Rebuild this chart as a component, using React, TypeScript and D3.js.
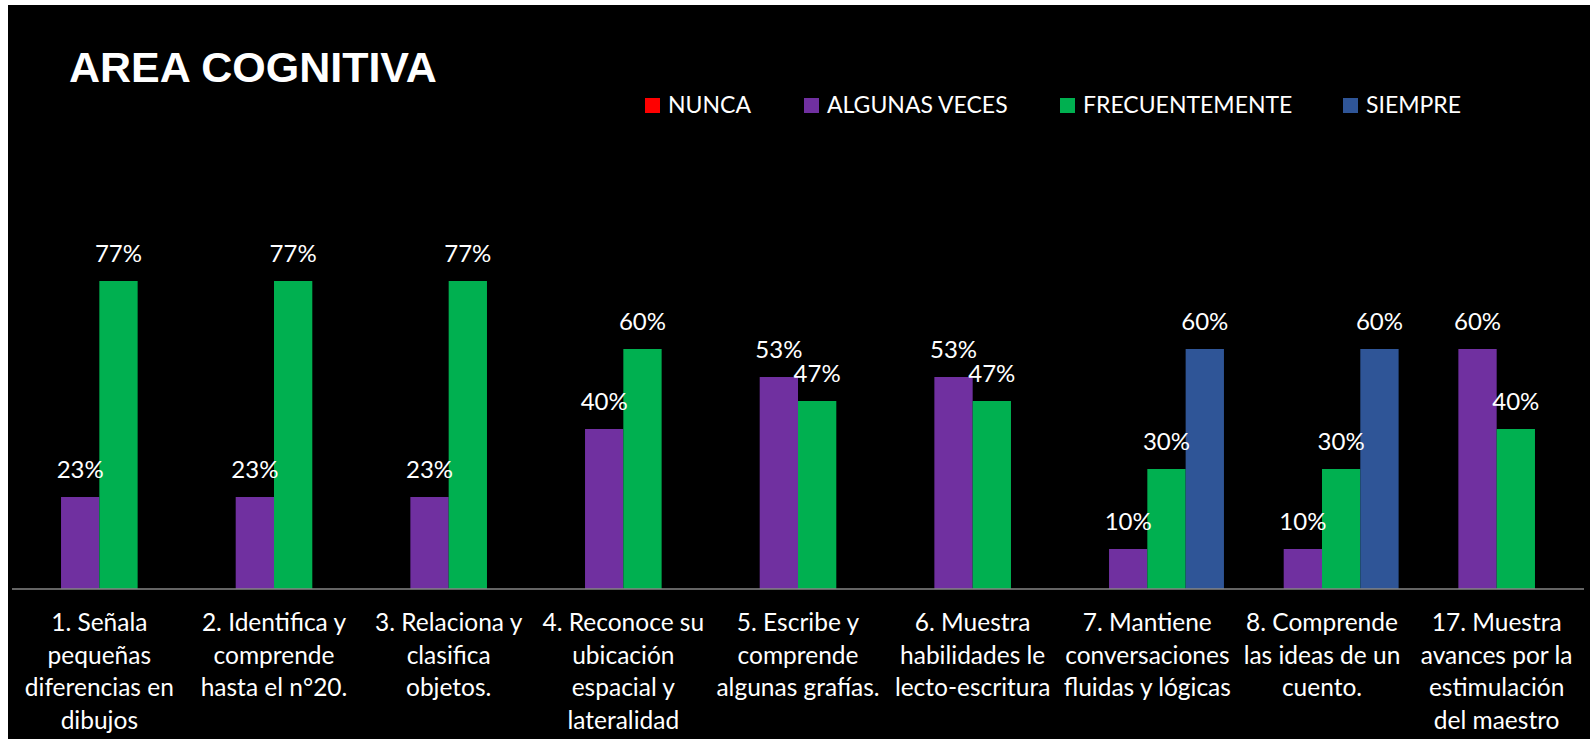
import React from "react";
import * as d3 from "d3";

const title = "AREA COGNITIVA";
const seriesNames = ["NUNCA", "ALGUNAS VECES", "FRECUENTEMENTE", "SIEMPRE"];
const seriesColors = ["#FF0000", "#7030A0", "#00B050", "#2F5597"];
const categoryLines: string[][] = [
  ["1. Señala", "pequeñas", "diferencias en", "dibujos"],
  ["2. Identifica y", "comprende", "hasta el n°20."],
  ["3. Relaciona y", "clasifica", "objetos."],
  ["4. Reconoce su", "ubicación", "espacial y", "lateralidad"],
  ["5. Escribe y", "comprende", "algunas grafías."],
  ["6. Muestra", "habilidades le", "lecto-escritura"],
  ["7. Mantiene", "conversaciones", "fluidas y lógicas"],
  ["8. Comprende", "las ideas de un", "cuento."],
  ["17. Muestra", "avances por la", "estimulación", "del maestro"],
];
const nunca: (number | null)[] = [null, null, null, null, null, null, null, null, null];
const algunasVeces: (number | null)[] = [0.23, 0.23, 0.23, 0.4, 0.53, 0.53, 0.1, 0.1, 0.6];
const frecuentemente: (number | null)[] = [0.77, 0.77, 0.77, 0.6, 0.47, 0.47, 0.3, 0.3, 0.4];
const siempre: (number | null)[] = [null, null, null, null, null, null, 0.6, 0.6, null];
const seriesValues = [nunca, algunasVeces, frecuentemente, siempre];

const W = 1590;
const H = 739;
const FONT = "Lato, 'Noto Sans', sans-serif";

export default function App() {
  const idx = categoryLines.map((_, i) => String(i));
  const x0 = d3.scaleBand<string>().domain(idx).range([12, 1584]).padding(0);
  const x1 = d3
    .scaleBand<string>()
    .domain(seriesNames)
    .range([0, x0.bandwidth()])
    .paddingInner(0)
    .paddingOuter(0.28);
  const y = d3.scaleLinear().domain([0, 1]).range([589, 189]);
  const fmt = d3.format(".0%");

  const legendX = [645, 804, 1060, 1343];

  return (
    <svg
      width={W}
      height={H}
      style={{ position: "absolute", left: 0, top: 0, display: "block" }}
    >
      <rect x={0} y={0} width={W} height={H} fill="#fff" />
      <rect x={8} y={5} width={W - 8} height={H - 5} fill="#000" />
      <text
        x={69}
        y={82}
        fill="#fff"
        fontFamily="'Liberation Sans', Arial, sans-serif"
        fontWeight="bold"
        fontSize={43}
      >
        {title}
      </text>
      {seriesNames.map((s, i) => (
        <g key={s} transform={`translate(${legendX[i]},0)`}>
          <rect x={0} y={98} width={15} height={15} fill={seriesColors[i]} />
          <text x={23} y={113} fill="#fff" fontFamily={FONT} fontSize={23}>
            {s}
          </text>
        </g>
      ))}
      {seriesValues.map((vals, si) =>
        vals.map((v, ci) =>
          v == null ? null : (
            <rect
              key={`b${si}-${ci}`}
              x={(x0(String(ci)) ?? 0) + (x1(seriesNames[si]) ?? 0)}
              y={y(v)}
              width={x1.bandwidth()}
              height={y(0) - y(v)}
              fill={seriesColors[si]}
            />
          )
        )
      )}
      <line x1={12} x2={1584} y1={y(0)} y2={y(0)} stroke="#868686" strokeWidth={1.5} />
      {seriesValues.map((vals, si) =>
        vals.map((v, ci) =>
          v == null ? null : (
            <text
              key={`l${si}-${ci}`}
              x={(x0(String(ci)) ?? 0) + (x1(seriesNames[si]) ?? 0) + x1.bandwidth() / 2}
              y={y(v) - 19}
              fill="#fff"
              textAnchor="middle"
              fontFamily={FONT}
              fontSize={24}
            >
              {fmt(v)}
            </text>
          )
        )
      )}
      {categoryLines.map((lines, ci) => (
        <text
          key={`c${ci}`}
          x={(x0(String(ci)) ?? 0) + x0.bandwidth() / 2}
          y={y(0) + 42}
          fill="#fff"
          textAnchor="middle"
          fontFamily={FONT}
          fontSize={24.5}
        >
          {lines.map((ln, li) => (
            <tspan key={li} x={(x0(String(ci)) ?? 0) + x0.bandwidth() / 2} dy={li === 0 ? 0 : 32.5}>
              {ln}
            </tspan>
          ))}
        </text>
      ))}
    </svg>
  );
}
